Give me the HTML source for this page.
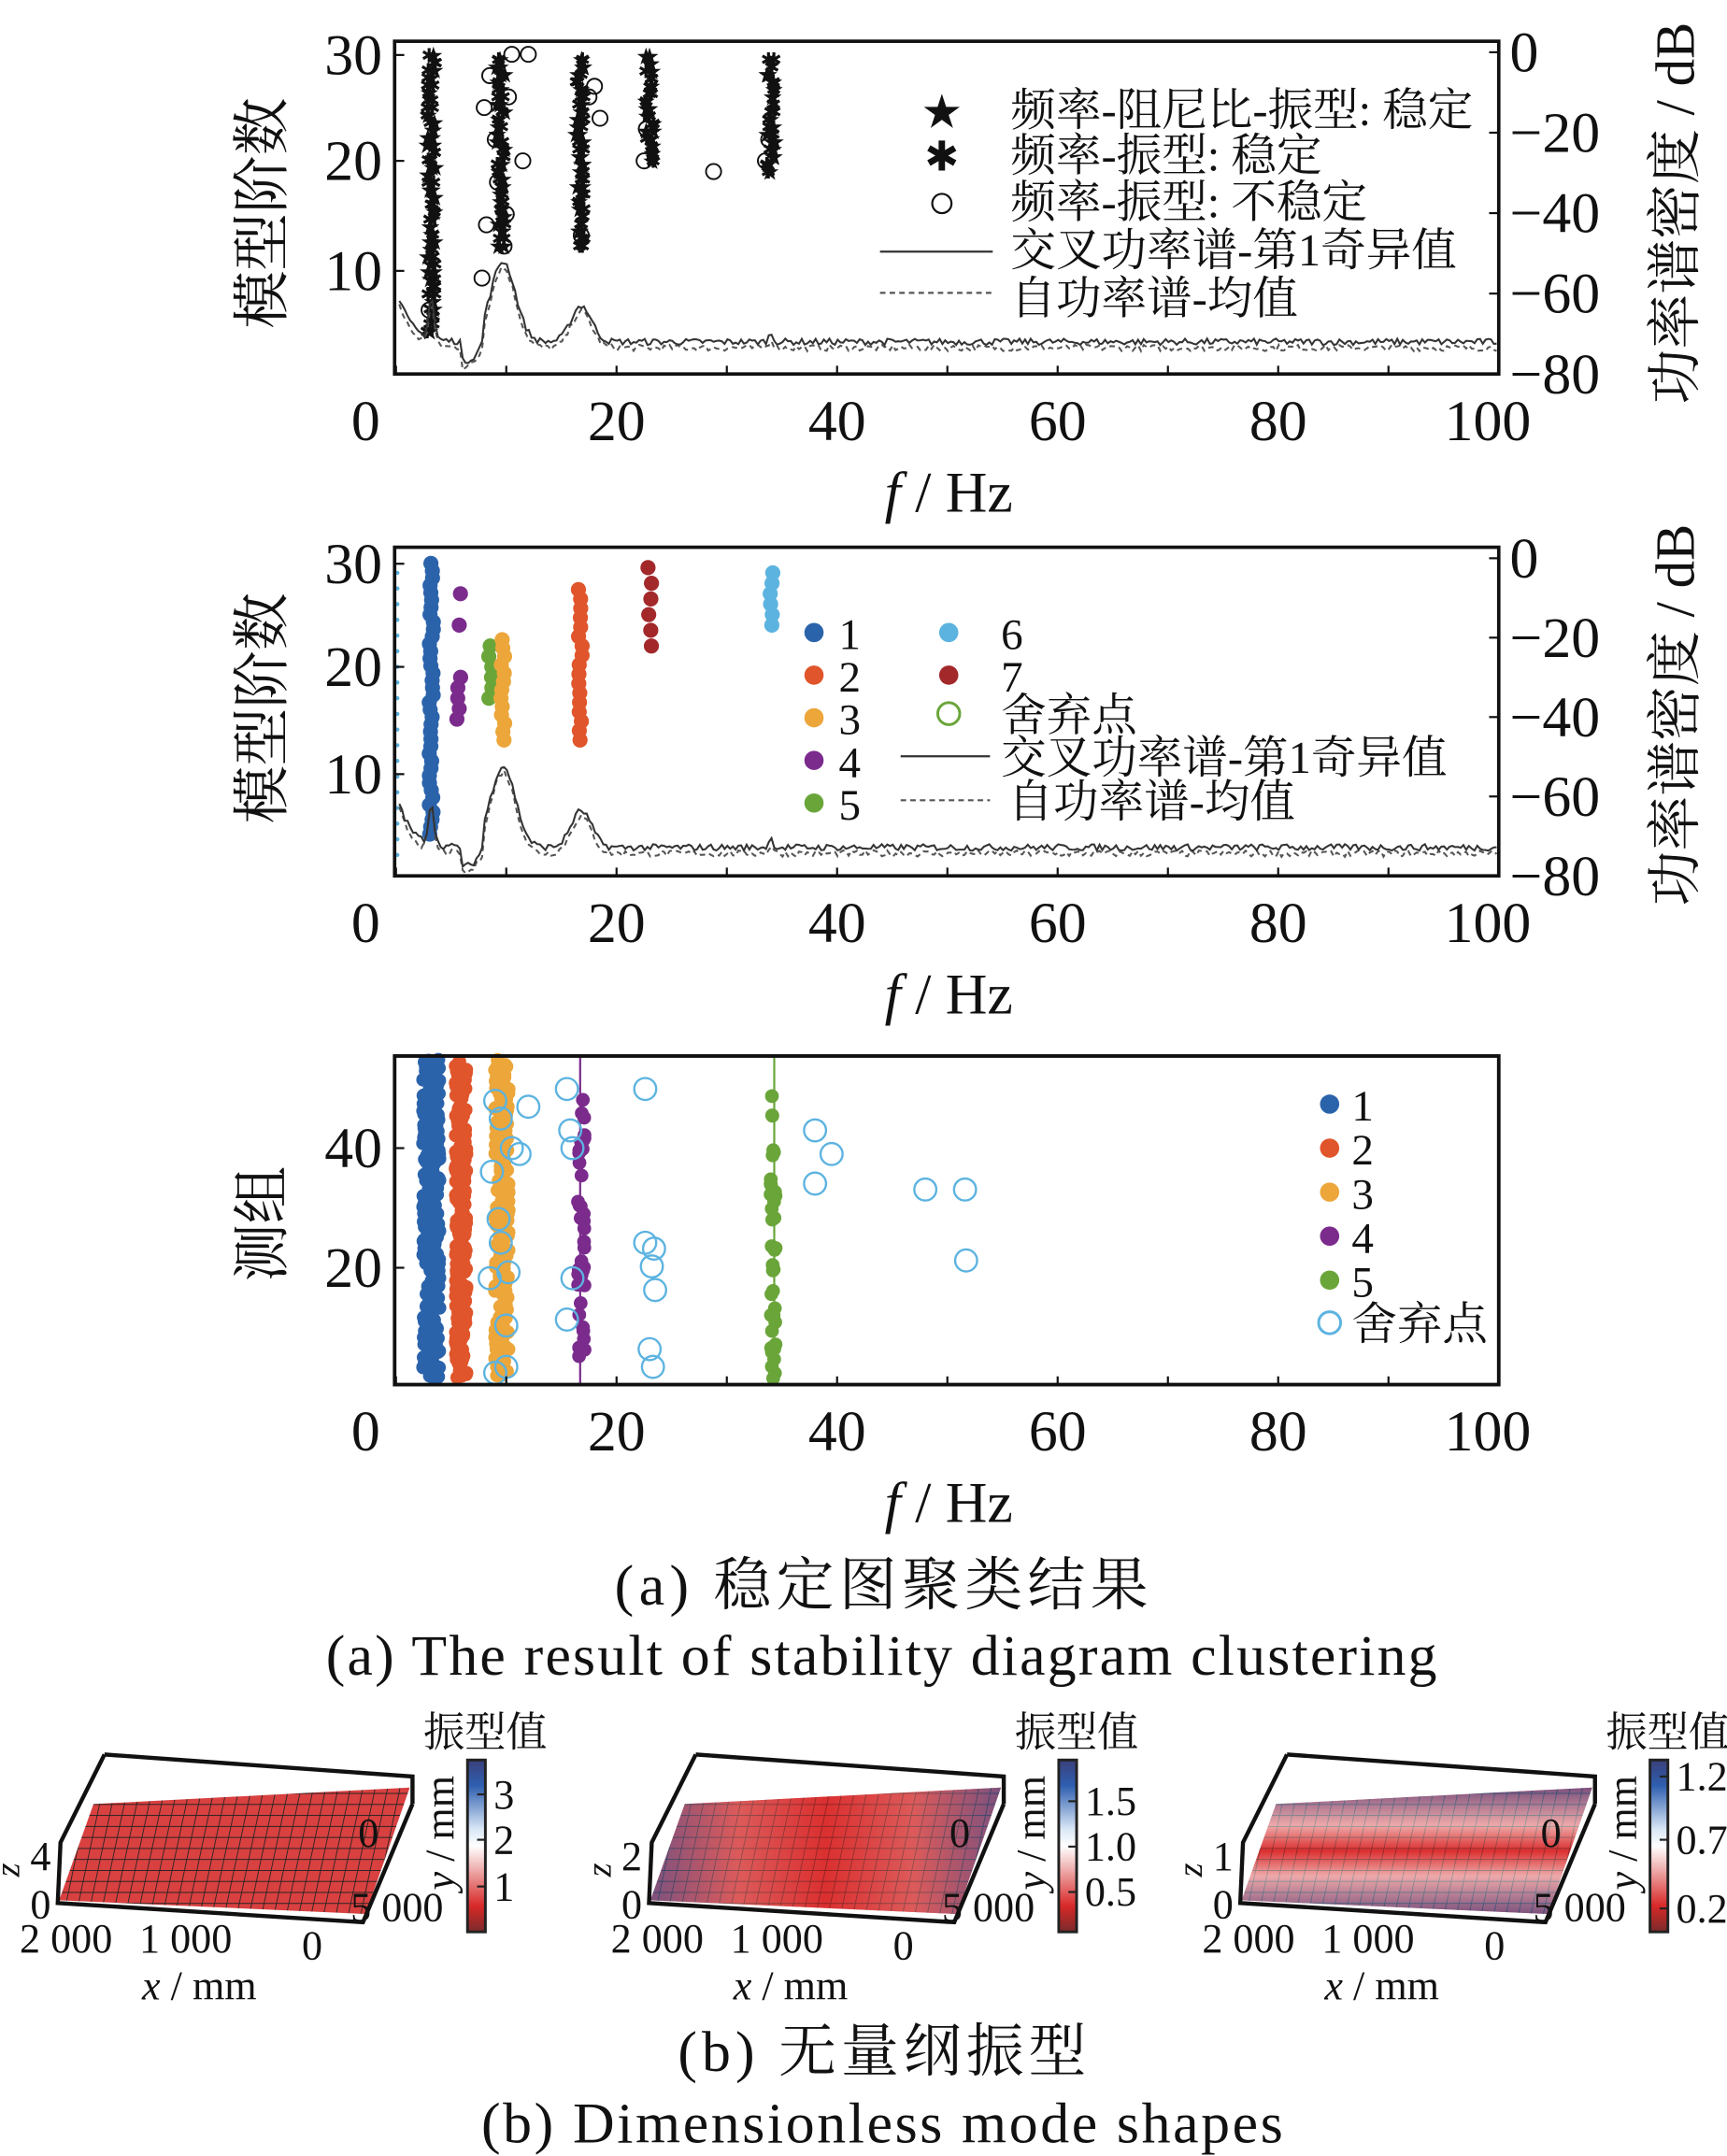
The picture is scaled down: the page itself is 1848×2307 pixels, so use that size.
<!DOCTYPE html>
<html><head><meta charset="utf-8"><style>
html,body{margin:0;padding:0;background:#fff}
svg{display:block}
text{font-family:"Liberation Serif","Noto Serif CJK SC",serif;fill:#111}
</style></head><body>
<svg id="s" xmlns="http://www.w3.org/2000/svg" width="1848" height="2307" viewBox="0 0 1256 1568" preserveAspectRatio="none">
<defs>
<linearGradient id="cb" x1="0" y1="0" x2="0" y2="1">
<stop offset="0" stop-color="#3a3f7a"/><stop offset="0.15" stop-color="#2f5fb0"/><stop offset="0.4" stop-color="#d8e6f5"/><stop offset="0.5" stop-color="#ffffff"/><stop offset="0.6" stop-color="#f3c4c4"/><stop offset="0.85" stop-color="#d82828"/><stop offset="1" stop-color="#7a2a2a"/>
</linearGradient>
<pattern id="grid" width="9" height="8" patternUnits="userSpaceOnUse" patternTransform="skewX(-12)">
<rect width="9" height="8" fill="#d94040"/><path d="M0 0H9M0 0V8" stroke="#222" stroke-width="1.2"/>
</pattern>
<linearGradient id="m2" x1="0" y1="0" x2="1" y2="0">
<stop offset="0" stop-color="#3060b0"/><stop offset="0.25" stop-color="#e07070"/><stop offset="0.5" stop-color="#d22"/><stop offset="0.75" stop-color="#e07070"/><stop offset="1" stop-color="#3060b0"/>
</linearGradient>
<linearGradient id="m3" x1="0" y1="0" x2="0" y2="1">
<stop offset="0" stop-color="#3060b0"/><stop offset="0.3" stop-color="#fff"/><stop offset="0.5" stop-color="#d22"/><stop offset="0.7" stop-color="#fff"/><stop offset="1" stop-color="#3060b0"/>
</linearGradient>
</defs>
<g id="g"></g>
</svg>
<script>
var g=document.getElementById('g');var out='';
var seed=7;function rnd(){seed=(seed*16807)%2147483647;return seed/2147483647;}
function X(f){return 288+f*8.02;}
function T(x,y,s,t,extra){out+='<text x="'+x+'" y="'+y+'" font-size="'+s+'" '+(extra||'')+'>'+t+'</text>';}
function spec(top,bot,dash,off){
 var d='';for(var f=0.3;f<=100;f+=0.25){
 var db=-72+14*Math.exp(-f/1.2)+10*Math.exp(-Math.pow((f-3.2)/0.35,2))+20*Math.exp(-Math.pow((f-9.7)/1.6,2))+9*Math.exp(-Math.pow((f-16.8)/1.3,2))+2*Math.exp(-Math.pow((f-34)/0.3,2))+(rnd()-0.5)*1.6-(f>6&&f<8?5:0)+off;
 var y=top+(-db)/80*(bot-top);d+=(d?'L':'M')+X(f).toFixed(1)+' '+y.toFixed(1);}
 out+='<path d="'+d+'" fill="none" stroke="'+(dash?'#555':'#333')+'" stroke-width="1.4" '+(dash?'stroke-dasharray="4 3"':'')+'/>';
}
function axes(top,bot,ylabels,right){
 out+='<rect x="287" y="'+top+'" width="803" height="'+(bot-top)+'" fill="none" stroke="#111" stroke-width="2.5"/>';
 for(var i=0;i<=10;i++){var x=X(i*10);out+='<line x1="'+x+'" y1="'+bot+'" x2="'+x+'" y2="'+(bot-6)+'" stroke="#111" stroke-width="1.5"/>';}
 [0,20,40,60,80,100].forEach(function(v,i){T(v==0?266:(v==100?1082:X(v)),bot+48,42,v,'text-anchor="middle"');});
 T(690,bot+100,42,'<tspan font-style="italic">f</tspan> / Hz','text-anchor="middle"');
 ylabels.forEach(function(a){T(278,a[1]+14,42,a[0],'text-anchor="end"');out+='<line x1="287" y1="'+a[1]+'" x2="294" y2="'+a[1]+'" stroke="#111" stroke-width="1.5"/>';});
 if(right){var vals=['0','−20','−40','−60','−80'];for(var i=0;i<5;i++){var y=top+8+i*(bot-top-8)/4;T(1098,y+14,42,vals[i]);out+='<line x1="1083" y1="'+y+'" x2="1090" y2="'+y+'" stroke="#111" stroke-width="1.5"/>';}}
}
/* panel 1 */
var t1=30,b1=272;
function y1(o){return 272-o*7.75;}
[[3.2,4,30],[9.5,12,30],[16.7,12,30],[23,20,30],[34,19,30]].forEach(function(c){
 for(var o=c[1];o<=c[2];o+=0.7){for(var k=0;k<2;k++){var x=X(c[0])+(rnd()-0.5)*6;T(x,y1(o)+5,14,rnd()<0.5?'★':'✱','text-anchor="middle"');}}});
[[3,6],[8,25],[8.5,28],[9,22],[10,15],[10.5,30],[11.5,20],[9.2,18],[12,30],[7.8,9],[16.8,13],[17.5,26],[18,27],[22.5,20],[22.7,23],[28.8,19],[33.5,20],[33.8,22],[9.8,12],[10.2,26],[18.5,24],[8.2,14]].forEach(function(p){out+='<circle cx="'+X(p[0])+'" cy="'+y1(p[1])+'" r="5.5" fill="none" stroke="#111" stroke-width="1.3"/>';});
spec(38,272,true,-1.5);spec(38,272,false,0);
axes(t1,b1,[['30',40],['20',117],['10',197]],true);
T(685,91,28,'★','text-anchor="middle"');T(685,124,30,'✱','text-anchor="middle"');
out+='<circle cx="685" cy="148" r="7" fill="none" stroke="#111" stroke-width="1.5"/>';
out+='<line x1="640" y1="183" x2="722" y2="183" stroke="#333" stroke-width="1.5"/><line x1="640" y1="213" x2="722" y2="213" stroke="#555" stroke-width="1.5" stroke-dasharray="4 3"/>';
T(735,91,33,'频率-阻尼比-振型: 稳定');T(735,124,33,'频率-振型: 稳定');T(735,158,33,'频率-振型: 不稳定');T(735,193,33,'交叉功率谱-第1奇异值');T(735,228,33,'自功率谱-均值');
T(0,0,42,'模型阶数','transform="translate(205,155) rotate(-90)" text-anchor="middle"');
T(0,0,40,'功率谱密度 / dB','transform="translate(1232,155) rotate(-90)" text-anchor="middle"');
/* panel 2 */
var t2=398,b2=637;function y2(o){return 637-o*7.6;}
var C={1:'#2b63ab',2:'#e0552b',3:'#eca63a',4:'#7a2b8c',5:'#6aa53a',6:'#5cb3e0',7:'#a3282a'};
function col(f,o1,o2,c,step){for(var o=o1;o<=o2;o+=step){out+='<circle cx="'+(X(f)+(rnd()-0.5)*3)+'" cy="'+y2(o)+'" r="5.5" fill="'+c+'"/>';}}
col(3.2,4,30,C[1],0.7);col(5.7,15,19,C[4],1);col(5.7,24,27,C[4],3);col(8.6,17,22,C[5],1);col(9.7,13,23,C[3],0.8);col(16.7,13,28,C[2],0.9);col(23,22,30,C[7],1.5);col(34,24,29,C[6],1);
for(var o=2;o<30;o+=1.5)out+='<circle cx="289" cy="'+y2(o)+'" r="1.5" fill="'+C[6]+'"/>';
spec(403,640,true,-1.5);spec(403,640,false,0);
axes(t2,b2,[['30',410],['20',485],['10',563]],true);
for(var i=1;i<=5;i++){out+='<circle cx="592" cy="'+(460+(i-1)*31)+'" r="7" fill="'+C[i]+'"/>';T(610,460+(i-1)*31+12,32,i);}
out+='<circle cx="690" cy="460" r="7" fill="'+C[6]+'"/><circle cx="690" cy="491" r="7" fill="'+C[7]+'"/><circle cx="690" cy="519" r="8" fill="none" stroke="'+C[5]+'" stroke-width="2"/>';
T(728,472,32,'6');T(728,503,32,'7');T(728,531,33,'舍弃点');
out+='<line x1="655" y1="550" x2="720" y2="550" stroke="#333" stroke-width="1.5"/><line x1="655" y1="582" x2="720" y2="582" stroke="#555" stroke-width="1.5" stroke-dasharray="4 3"/>';
T(728,562,33,'交叉功率谱-第1奇异值');T(733,594,33,'自功率谱-均值');
T(0,0,42,'模型阶数','transform="translate(205,515) rotate(-90)" text-anchor="middle"');
T(0,0,40,'功率谱密度 / dB','transform="translate(1232,520) rotate(-90)" text-anchor="middle"');
/* panel 3 */
var t3=768,b3=1007;function y3(v){return 1007-v*4.3;}
function band(f,w,c,n,lo,hi){for(var i=0;i<n;i++){out+='<circle cx="'+(X(f)+(rnd()-0.5)*w)+'" cy="'+(y3(lo+rnd()*(hi-lo)))+'" r="5" fill="'+c+'"/>';}}
out+='<line x1="'+X(16.7)+'" y1="'+t3+'" x2="'+X(16.7)+'" y2="'+b3+'" stroke="'+C[4]+'" stroke-width="1.5"/><line x1="'+X(34.3)+'" y1="'+t3+'" x2="'+X(34.3)+'" y2="'+b3+'" stroke="'+C[5]+'" stroke-width="1.5"/>';
band(3.2,12,C[1],300,1,55);band(5.9,8,C[2],220,1,55);band(9.6,10,C[3],180,1,55);band(16.8,5,C[4],40,1,50);band(34.2,4,C[5],40,1,50);
[[8.5,18],[9,48],[9.5,45],[8.7,36],[9.3,28],[10.5,40],[11.2,39],[12,47],[15.5,50],[15.8,43],[16,40],[16,18],[15.5,11],[10,3],[9,2],[10,10],[22.6,50],[22.6,24],[23.2,20],[23.5,16],[23.4,23],[23,6],[23.3,3],[38,43],[39.5,39],[38,34],[48,33],[51.6,33],[51.7,21],[9.5,24],[10.2,19]].forEach(function(p){out+='<circle cx="'+X(p[0])+'" cy="'+y3(p[1])+'" r="8" fill="none" stroke="'+C[6]+'" stroke-width="1.6"/>';});
axes(t3,b3,[['40',835],['20',922]],false);
out+='<rect x="287" y="'+t3+'" width="803" height="239" fill="none" stroke="#111" stroke-width="2.5"/>';
for(var i=1;i<=5;i++){out+='<circle cx="967" cy="'+(803+(i-1)*32)+'" r="7" fill="'+C[i]+'"/>';T(983,803+(i-1)*32+12,32,i);}
out+='<circle cx="967" cy="962" r="8" fill="none" stroke="'+C[6]+'" stroke-width="2"/>';T(983,974,33,'舍弃点');
T(0,0,42,'测组','transform="translate(205,890) rotate(-90)" text-anchor="middle"');
/* captions */
T(447,1167,42,'(a)  稳定图聚类结果','textLength="388" lengthAdjust="spacing"');
T(237,1218,42,'(a)  The result of stability diagram clustering','textLength="808" lengthAdjust="spacing"');
T(493,1506,42,'(b)  无量纲振型','textLength="297" lengthAdjust="spacing"');
T(350,1558,42,'(b)  Dimensionless mode shapes','textLength="583" lengthAdjust="spacing"');
/* 3D plots */
function p3(dx,ticks,zl,ov){
 var o='<g transform="translate('+dx+',0)">';
 var poly='68,1312 298,1300 266,1392 43,1382';
 o+='<polygon points="'+poly+'" fill="url(#grid)"/>';
 if(ov)o+='<polygon points="'+poly+'" fill="'+ov+'" opacity="0.55"/>';
 o+='<path d="M76,1276 L300,1292 L300,1312 M76,1276 L44,1340 L42,1384 L264,1398 L300,1312" fill="none" stroke="#111" stroke-width="3"/>';
 o+='</g>';out+=o;
 T(dx+37,1360,30,zl[0],'text-anchor="end"');T(dx+37,1395,30,'0','text-anchor="end"');
 T(dx+14,1365,26,'z','font-style="italic" transform="rotate(-90 '+(dx+14)+' 1365)"');
 T(dx+48,1420,30,'2 000','text-anchor="middle"');T(dx+135,1420,30,'1 000','text-anchor="middle"');T(dx+227,1425,30,'0','text-anchor="middle"');
 T(dx+145,1454,30,'<tspan font-style="italic">x</tspan> / mm','text-anchor="middle"');
 T(dx+268,1343,30,'0','text-anchor="middle"');T(dx+255,1397,30,'5 000');
 T(0,0,30,'<tspan font-style="italic">y</tspan> / mm','transform="translate('+(dx+330)+',1333) rotate(-90)" text-anchor="middle"');
 out+='<rect x="'+(dx+340)+'" y="1280" width="13" height="125" fill="url(#cb)" stroke="#222" stroke-width="2"/>';
 ticks.forEach(function(t){T(dx+359,t[1]+10,30,t[0]);out+='<line x1="'+(dx+347)+'" y1="'+t[1]+'" x2="'+(dx+353)+'" y2="'+t[1]+'" stroke="#222" stroke-width="1.5"/>';});
 T(dx+353,1270,30,'振型值','text-anchor="middle"');
}
p3(0,[['3',1305],['2',1338],['1',1372]],['4'],null);
p3(430,[['1.5',1310],['1.0',1343],['0.5',1376]],['2'],'url(#m2)');
p3(860,[['1.2',1292],['0.7',1338],['0.2',1388]],['1'],'url(#m3)');
g.innerHTML=out;
</script>
</body></html>
